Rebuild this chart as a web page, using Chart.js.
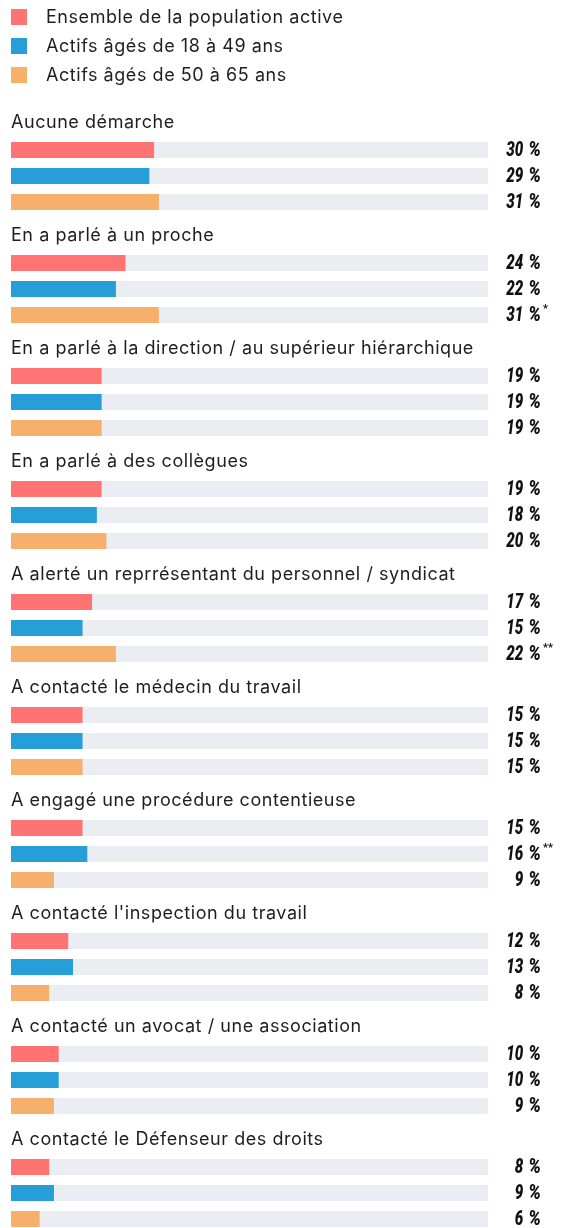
<!DOCTYPE html>
<html><head><meta charset="utf-8">
<script src="https://cdn.jsdelivr.net/npm/chart.js@4/dist/chart.umd.min.js"></script>
<style>
html,body{margin:0;padding:0;background:#fff;}
#wrap{position:relative;width:562px;height:1228px;}
</style></head>
<body><div id="wrap"><canvas id="c" width="562" height="1228"></canvas></div>
<script>
const categories = [
  "Aucune démarche",
  "En a parlé à un proche",
  "En a parlé à la direction / au supérieur hiérarchique",
  "En a parlé à des collègues",
  "A alerté un reprrésentant du personnel / syndicat",
  "A contacté le médecin du travail",
  "A engagé une procédure contentieuse",
  "A contacté l'inspection du travail",
  "A contacté un avocat / une association",
  "A contacté le Défenseur des droits"
];
const seriesNames = ["Ensemble de la population active", "Actifs âgés de 18 à 49 ans", "Actifs âgés de 50 à 65 ans"];
const valuesAll = [30, 24, 19, 19, 17, 15, 15, 12, 10, 8];
const values1849 = [29, 22, 19, 18, 15, 15, 16, 13, 10, 9];
const values5065 = [31, 31, 19, 20, 22, 15, 9, 8, 9, 6];
const marksAll = ["", "", "", "", "", "", "", "", "", ""];
const marks1849 = ["", "", "", "", "", "", "**", "", "", ""];
const marks5065 = ["", "*", "", "", "**", "", "", "", "", ""];
const colors = ["#ff7373", "#269fd9", "#f7af6c"];
const trackColor = "#eaedf1";
const textColor = "#1e1e1e";

const marks = [marksAll, marks1849, marks5065];

const decoPlugin = {
  id: 'deco',
  beforeDatasetsDraw(chart) {
    const ctx = chart.ctx, xs = chart.scales.x;
    const x0 = xs.getPixelForValue(0), x1 = xs.getPixelForValue(100);
    ctx.save();
    ctx.fillStyle = trackColor;
    chart.data.datasets.forEach((ds, di) => {
      chart.getDatasetMeta(di).data.forEach(el => {
        const p = el.getProps(['y', 'height'], true);
        ctx.fillRect(x0, p.y - p.height / 2, x1 - x0, p.height);
      });
    });
    ctx.restore();
  },
  afterDatasetsDraw(chart) {
    const ctx = chart.ctx, ys = chart.scales.y;
    ctx.save();
    ctx.font = '18px Inter, "Noto Sans", sans-serif';
    ctx.letterSpacing = '0.55px';
    ctx.textBaseline = 'middle';
    chart.data.datasets.forEach((ds, di) => {
      const cy = 17 + di * 29;
      ctx.fillStyle = ds.backgroundColor;
      ctx.fillRect(11, cy - 8, 16, 16);
      ctx.fillStyle = textColor;
      ctx.textAlign = 'left';
      ctx.fillText(ds.label, 46, cy + 1);
    });
    chart.data.labels.forEach((lab, i) => {
      const cy = ys.getPixelForValue(i) - 54;
      ctx.fillStyle = textColor;
      ctx.textAlign = 'left';
      ctx.fillText(lab, 11, cy + 1);
    });
    ctx.letterSpacing = '0px';
    const right = 541;
    chart.data.datasets.forEach((ds, di) => {
      chart.getDatasetMeta(di).data.forEach((el, i) => {
        const p = el.getProps(['y'], true);
        ctx.fillStyle = '#111';
        ctx.textBaseline = 'middle';
        ctx.font = 'italic 900 21px Roboto, sans-serif';
        const pw = ctx.measureText('%').width * 0.84;
        ctx.save();
        ctx.translate(right, p.y + 1);
        ctx.scale(0.84, 1);
        ctx.textAlign = 'right';
        ctx.fillText('%', 0, 0);
        ctx.restore();
        ctx.save();
        ctx.translate(right - pw - 5, p.y + 1);
        ctx.scale(0.72, 1);
        ctx.textAlign = 'right';
        ctx.fillText(String(ds.data[i]), 0, 0);
        ctx.restore();
        const m = marks[di][i];
        if (m) {
          ctx.font = 'bold 11px Roboto, sans-serif';
          ctx.textAlign = 'left';
          ctx.fillText(m, right + 2, p.y - 6);
        }
      });
    });
    ctx.restore();
  }
};

new Chart(document.getElementById('c'), {
  type: 'bar',
  data: {
    labels: categories,
    datasets: [
      { label: seriesNames[0], data: valuesAll, backgroundColor: colors[0] },
      { label: seriesNames[1], data: values1849, backgroundColor: colors[1] },
      { label: seriesNames[2], data: values5065, backgroundColor: colors[2] }
    ]
  },
  options: {
    indexAxis: 'y',
    responsive: false,
    animation: false,
    events: [],
    layout: { padding: { left: 11, right: 74, top: 176, bottom: 35 } },
    datasets: { bar: { categoryPercentage: 78 / 113, barPercentage: 16 / 26, clip: false, borderWidth: 0 } },
    scales: {
      x: { display: false, min: 0, max: 100 },
      y: { display: false, offset: false }
    },
    plugins: { legend: { display: false }, tooltip: { enabled: false } }
  },
  plugins: [decoPlugin]
});
</script></body></html>
